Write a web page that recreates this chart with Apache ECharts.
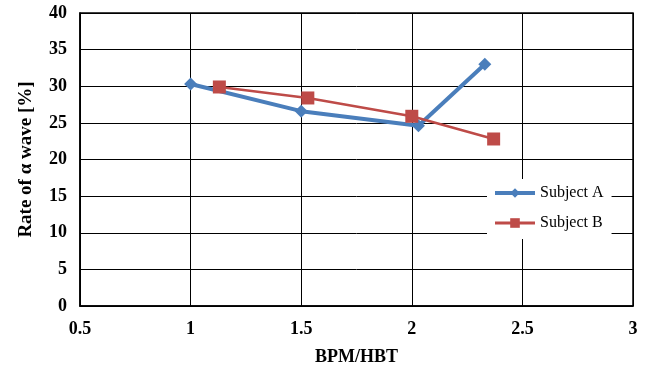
<!DOCTYPE html>
<html><head><meta charset="utf-8">
<script src="https://cdn.jsdelivr.net/npm/echarts@6/dist/echarts.min.js"></script>
<style>html,body{margin:0;padding:0;background:#fff}#c{width:653px;height:371px}</style>
</head><body><div id="c"></div>
<script>
var subjectA_x = [1.0, 1.5, 2.03, 2.33];
var subjectA_y = [30.3, 26.6, 24.6, 33.0];
var subjectB_x = [1.13, 1.53, 2.0, 2.37];
var subjectB_y = [29.9, 28.4, 25.9, 22.8];
var seriesNames = ['Subject A', 'Subject B'];
var xTitle = 'BPM/HBT';
var yTitle = 'Rate of α wave [%]';

function pairs(xs, ys){ return xs.map(function(x,i){return [x, ys[i]];}); }
var font = '"Liberation Serif","Times New Roman",serif';
var blue = '#4A7EBB', red = '#BE4B48';
var chart = echarts.init(document.getElementById('c'), null, {renderer:'canvas'});
chart.setOption({
  animation:false,
  backgroundColor:'#fff',
  grid:{left:80, right:20, top:13, bottom:65, show:true, borderColor:'#000', borderWidth:1.5},
  xAxis:{type:'value', min:0.5, max:3, interval:0.5,
    name:xTitle, nameLocation:'middle', nameGap:42,
    nameTextStyle:{fontFamily:font, fontWeight:'bold', fontSize:18, color:'#000'},
    axisLine:{show:true, lineStyle:{color:'#000', width:1.5}},
    axisTick:{show:false},
    axisLabel:{fontFamily:font, fontWeight:'bold', fontSize:18, color:'#000', margin:14},
    splitLine:{show:true, lineStyle:{color:'#000', width:1}}},
  yAxis:{type:'value', min:0, max:40, interval:5,
    name:yTitle, nameLocation:'middle', nameGap:44,
    nameTextStyle:{fontFamily:font, fontWeight:'bold', fontSize:19, color:'#000'},
    axisLine:{show:true, lineStyle:{color:'#000', width:1.5}},
    axisTick:{show:false},
    axisLabel:{fontFamily:font, fontWeight:'bold', fontSize:18, color:'#000', margin:13},
    splitLine:{show:true, lineStyle:{color:'#000', width:1}}},
  legend:{orient:'vertical', left:487, top:179, itemWidth:40, itemHeight:12, itemGap:14,
    backgroundColor:'#fff', padding:[6,8,8,6],
    textStyle:{fontFamily:font, fontSize:16, color:'#000'},
    data:[{name:seriesNames[0], lineStyle:{width:4, color:blue}},
          {name:seriesNames[1], lineStyle:{width:3, color:red}}]},
  series:[
    {name:seriesNames[0], type:'line', data:pairs(subjectA_x, subjectA_y),
     symbol:'diamond', symbolSize:13, color:blue,
     lineStyle:{width:4, color:blue}, itemStyle:{color:blue}},
    {name:seriesNames[1], type:'line', data:pairs(subjectB_x, subjectB_y),
     symbol:'rect', symbolSize:13, color:red,
     lineStyle:{width:2.5, color:red}, itemStyle:{color:red}}
  ]
});
</script></body></html>
